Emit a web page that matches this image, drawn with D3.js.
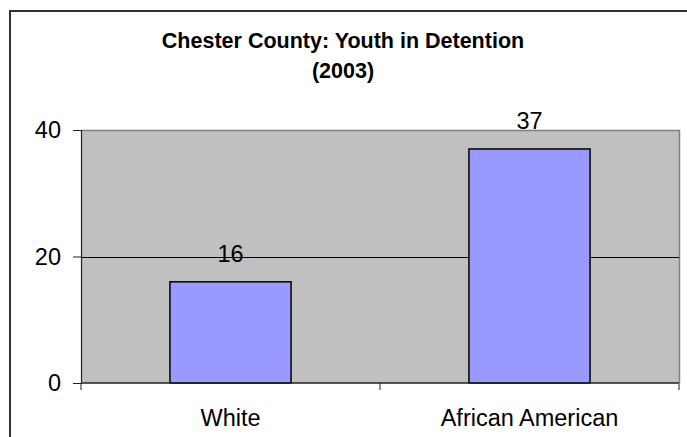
<!DOCTYPE html>
<html>
<head>
<meta charset="utf-8">
<script src="https://cdn.jsdelivr.net/npm/d3@7"></script>
<style>
  html, body { margin: 0; padding: 0; background: #fff; }
  svg { display: block; font-family: "Liberation Sans", Arial, sans-serif; }
</style>
</head>
<body>
<svg id="chart" width="687" height="437"></svg>
<script>
const categories = ["White", "African American"];
const values = [16, 37];
const yTicks = [0, 20, 40];
const titleLines = ["Chester County: Youth in Detention", "(2003)"];

const svg = d3.select("#chart");
const W = 687, H = 437;
const plot = { left: 81, right: 679, top: 130, bottom: 383 };

// outer chart border
svg.append("rect")
  .attr("x", 10).attr("y", 11)
  .attr("width", W + 20).attr("height", H + 20)
  .attr("fill", "#fff").attr("stroke", "#333").attr("stroke-width", 2);

const x = d3.scaleBand().domain(categories).range([plot.left, plot.right]).paddingInner(0.595).paddingOuter(0.2975);
const xOuter = d3.scaleBand().domain(categories).range([plot.left, plot.right]);
const y = d3.scaleLinear().domain([0, 40]).range([plot.bottom, plot.top]);

// plot area
svg.append("rect")
  .attr("x", plot.left).attr("y", plot.top)
  .attr("width", plot.right - plot.left).attr("height", plot.bottom - plot.top)
  .attr("fill", "#C0C0C0");
svg.append("path")
  .attr("d", `M${plot.left},${plot.top + 0.5}H${plot.right + 0.5}V${plot.bottom}`)
  .attr("fill", "none").attr("stroke", "#808080").attr("stroke-width", 1.5);

// gridlines
svg.append("g").selectAll("line")
  .data(yTicks.filter(t => t > 0 && t < 40))
  .join("line")
  .attr("x1", plot.left).attr("x2", plot.right)
  .attr("y1", d => Math.round(y(d)) + 0.5).attr("y2", d => Math.round(y(d)) + 0.5)
  .attr("stroke", "#000").attr("stroke-width", 1);

// bars
svg.append("g").selectAll("rect")
  .data(values)
  .join("rect")
  .attr("x", (d, i) => x(categories[i]))
  .attr("y", d => y(d))
  .attr("width", x.bandwidth())
  .attr("height", d => y(0) - y(d))
  .attr("fill", "#9999FF")
  .attr("stroke", "#000").attr("stroke-width", 1.5);

// value labels
svg.append("g").selectAll("text")
  .data(values)
  .join("text")
  .attr("x", (d, i) => x(categories[i]) + x.bandwidth() / 2)
  .attr("y", d => y(d) - 19.5)
  .attr("text-anchor", "middle")
  .attr("font-size", 23.5)
  .attr("fill", "#000")
  .text(d => d);

// y axis
const yAxis = d3.axisLeft(y).tickValues(yTicks).tickSize(8).tickPadding(12);
const gy = svg.append("g").attr("transform", `translate(${plot.left},0)`).call(yAxis);
gy.select(".domain").attr("stroke", "#222").attr("stroke-width", 1.2);
gy.selectAll(".tick line").attr("stroke", "#222");
gy.selectAll(".tick text").attr("font-size", 23.5).attr("fill", "#000")
  .attr("font-family", "Liberation Sans, Arial, sans-serif");

// x axis line
svg.append("line")
  .attr("x1", plot.left).attr("x2", plot.right)
  .attr("y1", plot.bottom).attr("y2", plot.bottom)
  .attr("stroke", "#222").attr("stroke-width", 1.5);
// category separator ticks
const sepX = [plot.left].concat(categories.map(c => xOuter(c) + xOuter.bandwidth()));
svg.append("g").selectAll("line")
  .data(sepX)
  .join("line")
  .attr("x1", d => d).attr("x2", d => d)
  .attr("y1", plot.bottom).attr("y2", plot.bottom + 7)
  .attr("stroke", "#222").attr("stroke-width", 1);

// category labels
svg.append("g").selectAll("text")
  .data(categories)
  .join("text")
  .attr("x", d => xOuter(d) + xOuter.bandwidth() / 2)
  .attr("y", 425.5)
  .attr("text-anchor", "middle")
  .attr("font-size", 23.5)
  .attr("fill", "#000")
  .text(d => d);

// title
svg.append("g").selectAll("text")
  .data(titleLines)
  .join("text")
  .attr("x", 343)
  .attr("y", (d, i) => 47.5 + i * 30.5)
  .attr("text-anchor", "middle")
  .attr("font-size", 21.5)
  .attr("font-weight", "bold")
  .attr("fill", "#000")
  .text(d => d);
</script>
</body>
</html>
